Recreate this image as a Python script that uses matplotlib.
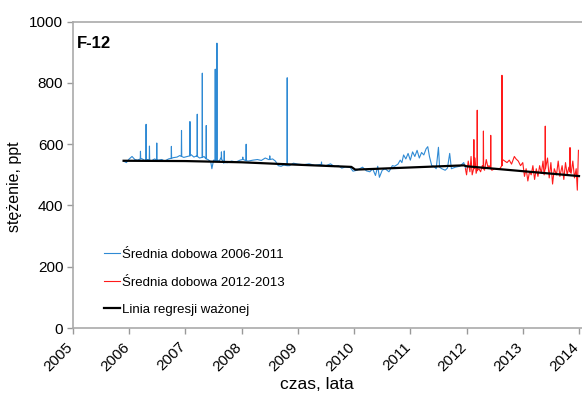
import numpy as np
import matplotlib
matplotlib.use("Agg")
import matplotlib.pyplot as plt
import matplotlib.transforms as mtransforms

plt.rcParams['font.family'] = ['Liberation Sans', 'DejaVu Sans']

# daily mean 2006-2011 (baseline + spikes)
blue_base_t = [2005.90, 2005.95, 2006.00, 2006.05, 2006.10, 2006.15, 2006.22, 2006.28, 2006.33, 2006.40,
               2006.45, 2006.52, 2006.58, 2006.63, 2006.70, 2006.78, 2006.85, 2006.90, 2006.97, 2007.03,
               2007.10, 2007.15, 2007.20, 2007.25, 2007.33, 2007.40, 2007.45, 2007.47, 2007.50, 2007.60,
               2007.63, 2007.68, 2007.75, 2007.82, 2007.90, 2007.97, 2008.03, 2008.12, 2008.20, 2008.28,
               2008.35, 2008.42, 2008.48, 2008.55, 2008.60, 2008.65, 2008.70, 2008.75, 2008.85, 2008.92,
               2009.00, 2009.10, 2009.20, 2009.30, 2009.40, 2009.50, 2009.58, 2009.65, 2009.72, 2009.78,
               2009.85, 2009.93, 2009.98, 2010.05, 2010.10, 2010.15, 2010.22, 2010.28, 2010.33, 2010.38,
               2010.42, 2010.45, 2010.50, 2010.55, 2010.62, 2010.68, 2010.72, 2010.78, 2010.82, 2010.85,
               2010.88, 2010.92, 2010.96, 2011.00, 2011.04, 2011.08, 2011.12, 2011.16, 2011.20, 2011.24,
               2011.28, 2011.31, 2011.34, 2011.38, 2011.42, 2011.46, 2011.50, 2011.52, 2011.56, 2011.62,
               2011.66, 2011.70, 2011.73, 2011.80, 2011.88, 2011.95, 2011.99]
blue_base_v = [545, 540, 552, 560, 550, 548, 553, 547, 550, 546,
               552, 548, 550, 545, 552, 556, 558, 563, 557, 560,
               566, 558, 562, 555, 560, 550, 543, 520, 548, 545,
               555, 538, 540, 545, 542, 548, 550, 545, 548, 550,
               547, 555, 550, 552, 545, 530, 528, 532, 530, 538,
               535, 533, 536, 531, 534, 530, 536, 527, 530, 522,
               526, 524, 512, 515, 520, 525, 513, 510, 520, 498,
               528, 492, 515, 520, 510, 530, 528, 535, 548, 540,
               565, 552, 570, 548, 575, 560, 580, 555, 573, 565,
               585, 592, 560, 530, 528, 520, 590, 525, 520, 515,
               522, 570, 520, 525, 528, 540, 518]
blue_spike_t = [2006.20, 2006.30, 2006.36, 2006.49, 2006.75, 2006.93, 2007.08, 2007.21, 2007.30, 2007.37,
                2007.53, 2007.56, 2007.64, 2007.69, 2008.02, 2008.08, 2008.50, 2008.81, 2009.42]
blue_spike_v = [577, 665, 594, 604, 593, 645, 674, 698, 832, 661,
                845, 930, 575, 578, 558, 600, 562, 817, 542]
blue_spike_foot = [552, 549, 548, 549, 554, 560, 562, 560, 557, 552,
                   547, 547, 552, 540, 550, 546, 550, 530, 532]

# daily mean 2012-2013
red_base_t = [2011.98, 2012.00, 2012.03, 2012.06, 2012.08, 2012.10, 2012.15, 2012.17, 2012.22, 2012.25,
              2012.28, 2012.32, 2012.35, 2012.38, 2012.40, 2012.45, 2012.50, 2012.55, 2012.60, 2012.64,
              2012.68, 2012.72, 2012.76, 2012.80, 2012.85, 2012.88, 2012.92, 2012.96, 2013.00, 2013.03,
              2013.06, 2013.09, 2013.12, 2013.15, 2013.18, 2013.21, 2013.24, 2013.27, 2013.30, 2013.33,
              2013.36, 2013.38, 2013.44, 2013.47, 2013.50, 2013.53, 2013.56, 2013.60, 2013.63, 2013.66,
              2013.70, 2013.73, 2013.76, 2013.79, 2013.82, 2013.86, 2013.89, 2013.92, 2013.95, 2013.97,
              2013.99]
red_base_v = [520, 500, 545, 510, 560, 500, 555, 505, 520, 510,
              530, 515, 550, 525, 530, 515, 520, 518, 522, 550,
              545, 540, 548, 535, 560, 552, 545, 530, 540, 495,
              520, 480, 510, 500, 530, 485, 520, 495, 530, 505,
              545, 500, 555, 490, 540, 470, 520, 500, 545, 495,
              530, 485, 540, 500, 525, 505, 545, 490, 520, 450,
              580]
red_spike_t = [2012.13, 2012.19, 2012.30, 2012.43, 2012.63, 2013.40, 2013.84]
red_spike_v = [615, 711, 643, 629, 825, 659, 589]
red_spike_foot = [520, 515, 520, 520, 530, 520, 510]

# weighted regression line
reg_t = [2005.90, 2007.00, 2008.00, 2009.00, 2009.95, 2010.02, 2011.95, 2012.00, 2014.00]
reg_v = [546, 545, 541, 533, 526, 517, 531, 528, 496]

xticks = list(range(2005, 2015))
yticks = [0, 200, 400, 600, 800, 1000]


def build(base_t, base_v, spike_t, spike_v, foot):
    # each spike is a narrow peak: foot -> peak -> foot
    t = list(base_t)
    v = list(base_v)
    for st, sv, sf in zip(spike_t, spike_v, foot):
        t += [st - 0.004, st, st + 0.004]
        v += [sf, sv, sf]
    t = np.array(t)
    v = np.array(v)
    order = np.argsort(t, kind="stable")
    return t[order], v[order]


blue_t, blue_v = build(blue_base_t, blue_base_v, blue_spike_t, blue_spike_v, blue_spike_foot)
red_t, red_v = build(red_base_t, red_base_v, red_spike_t, red_spike_v, red_spike_foot)

fig = plt.figure(figsize=(5.82, 3.97), dpi=100)
ax = fig.add_axes([73 / 582, 69 / 397, 1 - 73 / 582, (328 - 21.7) / 397])

ax.plot(blue_t, blue_v, color="#2F8AD4", lw=0.8, label="Średnia dobowa 2006-2011")
ax.plot(red_t, red_v, color="#FF1A1A", lw=0.8, label="Średnia dobowa 2012-2013")
ax.plot(reg_t, reg_v, color="black", lw=1.6, label="Linia regresji ważonej")

ax.set_xlim(2005, 2014 + 3 / 56.2)
ax.set_ylim(0, 1000)
ax.set_xticks(xticks)
ax.set_yticks(yticks)
ax.set_xticklabels([str(x) for x in xticks], rotation=45, ha="right", rotation_mode="anchor")
ax.tick_params(labelsize=11, color="#999999", length=4, width=1, pad=3)
shift = mtransforms.ScaledTranslation(-7 / 100, -2 / 100, fig.dpi_scale_trans)
for lab in ax.get_xticklabels():
    lab.set_transform(lab.get_transform() + shift)

for side in ["left", "bottom", "top"]:
    ax.spines[side].set_color("#AAAAAA")
    ax.spines[side].set_linewidth(1.2)
ax.spines["right"].set_visible(False)

ax.set_ylabel("stężenie, ppt", fontsize=11.5)
ax.set_xlabel("czas, lata", fontsize=12.5)
ax.yaxis.set_label_coords(-0.1, 0.46)
ax.xaxis.set_label_coords(0.48, -0.16)

ax.text(0.008, 0.93, "F-12", transform=ax.transAxes, fontsize=12, fontweight="bold", va="center")

ax.legend(loc="upper left", bbox_to_anchor=(92 / 582, 1 - 237 / 397), bbox_transform=fig.transFigure,
          frameon=False, fontsize=9.5, handlelength=1.25, handletextpad=0.12, labelspacing=1.15)

fig.savefig("out.png", dpi=100)
